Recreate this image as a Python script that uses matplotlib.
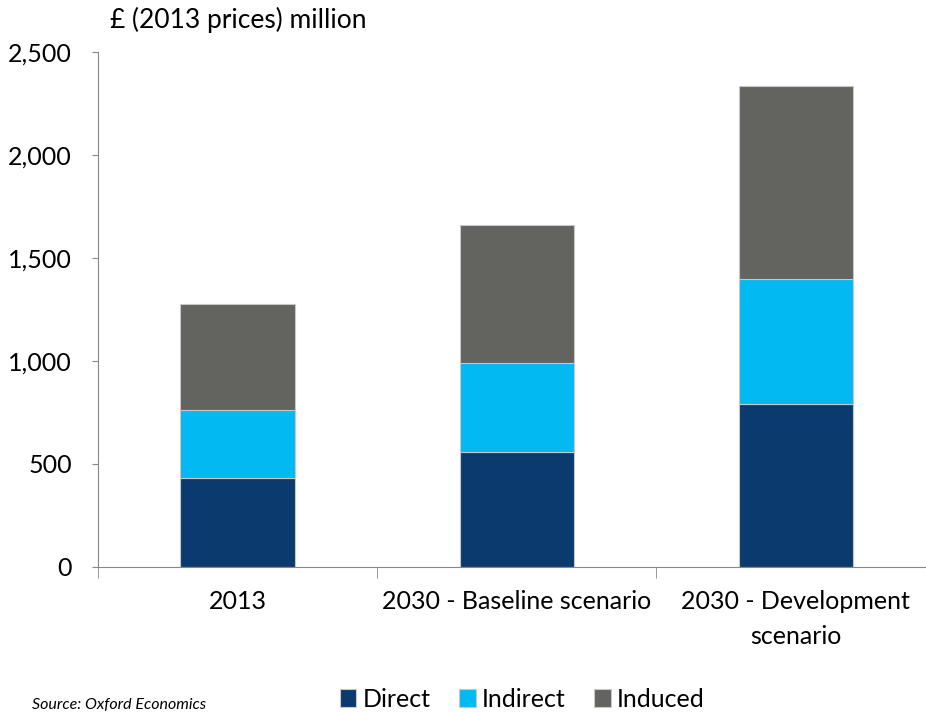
import matplotlib.pyplot as plt
import numpy as np

plt.rcParams['font.family'] = ['Lato', 'DejaVu Sans']

categories = ['2013', '2030 - Baseline scenario', '2030 - Development\nscenario']
direct = [430, 560, 790]
indirect = [330, 430, 610]
induced = [515, 670, 935]
series_names = ['Direct', 'Indirect', 'Induced']
colors = ['#0b3a6f', '#03b9f2', '#63645f']
y_ticks = [0, 500, 1000, 1500, 2000, 2500]

fig = plt.figure(figsize=(9.26, 7.13), dpi=100)
ax = fig.add_axes([0.106, 0.205, 0.904, 0.722])

x = np.arange(len(categories))
bottom = np.zeros(len(categories))
handles = []
for name, vals, col in zip(series_names, [direct, indirect, induced], colors):
    h = ax.bar(x, vals, width=0.41, bottom=bottom, color=col,
               edgecolor='#c8c8c8', linewidth=0.8, label=name)
    handles.append(h)
    bottom += np.array(vals)

ax.set_xlim(-0.5, len(categories) - 0.5)
ax.set_ylim(0, 2500)
ax.set_yticks(y_ticks)
ax.set_yticklabels([f'{v:,}' for v in y_ticks], fontsize=18)
ax.set_xticks(x)
ax.set_xticklabels(categories, fontsize=18, linespacing=1.6)
ax.tick_params(axis='x', length=0, pad=17)
ax.set_xticks(np.arange(len(categories) + 1) - 0.5, minor=True)
ax.tick_params(axis='x', which='minor', length=8, color='#888888', direction='out')
ax.tick_params(axis='y', length=4, color='#888888', direction='out', pad=15)

for side in ['top', 'right']:
    ax.spines[side].set_visible(False)
for side in ['left', 'bottom']:
    ax.spines[side].set_color('#888888')

fig.text(0.119, 0.972, '£ (2013 prices) million', fontsize=19, va='center')
fig.text(0.035, 0.011, 'Source: Oxford Economics', fontsize=11.5, style='italic', va='center')

fig.legend(handles=handles, loc='center', bbox_to_anchor=(0.564, 0.019), ncol=3,
           frameon=False, fontsize=18, handlelength=0.65, handleheight=0.75,
           handletextpad=0.25, columnspacing=1.15)

fig.savefig('out.png', dpi=100)
